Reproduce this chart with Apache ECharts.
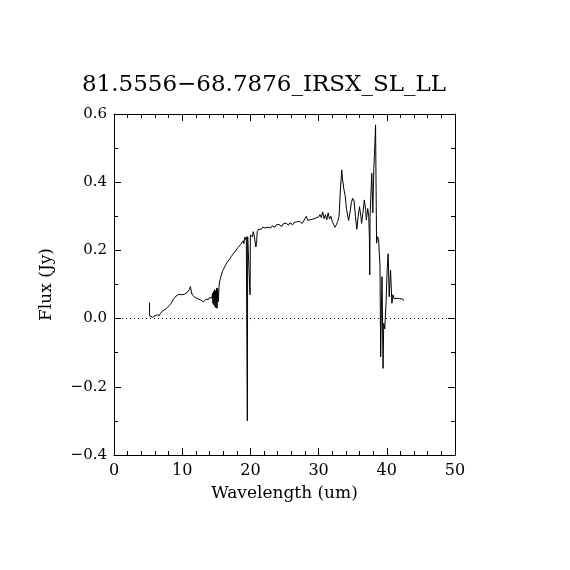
<!DOCTYPE html>
<html><head><meta charset="utf-8">
<script src="https://cdn.jsdelivr.net/npm/echarts@6/dist/echarts.min.js"></script>
<style>html,body{margin:0;padding:0;background:#fff}#c{width:570px;height:570px}</style>
</head><body><div id="c"></div>
<script>
var titleText = '81.5556\u221268.7876_IRSX_SL_LL';
var xName = 'Wavelength (um)';
var yName = 'Flux (Jy)';
var xTicks = [0, 10, 20, 30, 40, 50];
var yTicks = [-0.4, -0.2, 0.0, 0.2, 0.4, 0.6];
var wavelength = [
5.20,5.22,5.35,5.5,5.65,5.8,6.0,6.1,6.2,6.35,6.5,6.65,6.8,7.0,7.1,7.2,7.35,7.5,7.65,7.8,
8.0,8.1,8.25,8.4,8.55,8.7,8.8,8.95,9.1,9.3,9.5,9.7,9.9,10.1,10.3,10.5,10.7,10.9,11.05,11.2,
11.35,11.5,11.7,11.9,12.1,12.3,12.5,12.7,12.9,13.1,13.3,13.5,13.7,13.85,14.0,14.2,14.35,14.45,14.5,14.6,
14.65,14.75,14.8,14.9,14.95,15.05,15.1,15.2,15.3,15.4,15.5,15.6,15.75,15.9,16.05,16.2,16.4,16.6,16.8,17.0,
17.2,17.4,17.6,17.8,18.0,18.2,18.4,18.6,18.8,18.95,19.05,19.15,19.3,19.4,19.5,19.55,19.6,19.75,19.85,19.95,
20.0,20.15,20.3,20.4,20.55,20.7,20.8,20.9,21.0,21.2,21.4,21.6,21.8,22.0,22.2,22.4,22.6,22.8,23.0,23.2,
23.4,23.6,23.8,24.0,24.2,24.4,24.6,24.8,25.0,25.2,25.4,25.6,25.8,26.0,26.2,26.4,26.6,26.8,27.0,27.2,
27.4,27.6,27.8,28.0,28.2,28.4,28.6,28.8,29.0,29.2,29.4,29.6,29.8,30.0,30.2,30.4,30.6,30.8,31.0,31.2,
31.4,31.6,31.8,32.0,32.2,32.4,32.6,32.8,33.0,33.2,33.4,33.5,33.7,33.9,34.1,34.4,34.6,34.8,35.0,35.2,
35.4,35.6,35.8,36.0,36.2,36.3,36.5,36.7,36.9,37.0,37.2,37.35,37.45,37.5,37.55,37.7,37.8,37.95,38.1,38.2,
38.35,38.5,38.65,38.8,38.9,39.0,39.1,39.2,39.3,39.45,39.55,39.7,39.9,40.05,40.2,40.35,40.55,40.75,40.9,41.1,
41.3,41.5,41.7,41.9,42.1,42.3,42.5];
var flux = [
0.047,0.008,0.005,0.007,0.004,0.009,0.008,0.012,0.006,0.011,0.012,0.009,0.015,0.017,0.022,0.019,0.024,0.027,0.025,0.032,
0.033,0.038,0.036,0.045,0.050,0.057,0.053,0.062,0.066,0.068,0.071,0.072,0.070,0.073,0.071,0.073,0.076,0.079,0.085,0.094,
0.078,0.069,0.066,0.062,0.063,0.058,0.060,0.055,0.054,0.049,0.052,0.057,0.060,0.056,0.062,0.065,0.060,0.075,0.045,0.080,
0.040,0.085,0.035,0.082,0.032,0.090,0.030,0.088,0.050,0.095,0.110,0.118,0.128,0.138,0.145,0.150,0.158,0.165,0.170,0.176,
0.182,0.188,0.193,0.198,0.203,0.209,0.213,0.218,0.222,0.228,0.220,0.238,0.232,0.240,0.236,-0.300,0.240,0.245,0.238,0.070,
0.245,0.250,0.240,0.255,0.245,0.250,0.210,0.220,0.255,0.262,0.265,0.262,0.268,0.264,0.266,0.263,0.268,0.270,0.266,0.272,
0.270,0.268,0.275,0.271,0.276,0.273,0.270,0.278,0.274,0.280,0.277,0.274,0.281,0.279,0.275,0.282,0.278,0.284,0.280,0.285,
0.282,0.279,0.286,0.290,0.300,0.288,0.285,0.290,0.287,0.292,0.289,0.295,0.291,0.298,0.305,0.296,0.313,0.293,0.305,0.290,
0.310,0.292,0.300,0.285,0.280,0.268,0.275,0.285,0.300,0.380,0.436,0.410,0.380,0.360,0.320,0.288,0.310,0.340,0.353,0.345,
0.300,0.262,0.300,0.328,0.300,0.279,0.310,0.348,0.320,0.289,0.323,0.300,0.235,0.128,0.300,0.380,0.426,0.310,0.440,0.485,
0.568,0.221,0.240,0.232,0.190,0.157,-0.112,0.020,0.123,-0.146,-0.014,-0.030,0.050,0.142,0.190,0.064,0.142,0.045,0.070,0.058,
0.055,0.060,0.056,0.058,0.063,0.058,0.052];

var seriesData = wavelength.map(function (w, i) { return [w, flux[i]]; });
var FONT = 'DejaVu Serif';
function fmtY(v) { var s = Math.abs(v) < 1e-9 ? '0.0' : v.toFixed(1); return s.replace('-', '\u2212'); }

var axisCommon = {
  type: 'value',
  axisLine: { show: true, onZero: false, lineStyle: { color: '#000', width: 1 } },
  splitLine: { show: false },
  axisTick: { show: true, inside: true, length: 7, lineStyle: { color: '#000' } },
  minorTick: { show: true, length: 4, lineStyle: { color: '#000' } }
};

var chart = echarts.init(document.getElementById('c'), null, { renderer: 'canvas' });
chart.setOption({
  animation: false,
  backgroundColor: '#fff',
  title: {
    text: titleText, left: 259, top: 69, textAlign: 'center',
    textStyle: { fontFamily: FONT, fontWeight: 'normal', fontSize: 23, color: '#000' }
  },
  grid: { left: 114, right: 115, top: 114, bottom: 115 },
  xAxis: [
    Object.assign({}, axisCommon, {
      min: xTicks[0], max: xTicks[xTicks.length - 1], interval: 10, position: 'bottom',
      minorTick: { show: true, splitNumber: 5, length: 4, lineStyle: { color: '#000' } },
      axisLabel: { show: true, margin: 8, fontFamily: FONT, fontSize: 16, color: '#000' },
      name: xName, nameLocation: 'middle', nameGap: 30,
      nameTextStyle: { fontFamily: FONT, fontSize: 17, color: '#000' }
    }),
    Object.assign({}, axisCommon, {
      min: xTicks[0], max: xTicks[xTicks.length - 1], interval: 10, position: 'top',
      minorTick: { show: true, splitNumber: 5, length: 4, lineStyle: { color: '#000' } },
      axisLabel: { show: false }
    })
  ],
  yAxis: [
    Object.assign({}, axisCommon, {
      min: yTicks[0], max: yTicks[yTicks.length - 1], interval: 0.2, position: 'left',
      minorTick: { show: true, splitNumber: 2, length: 4, lineStyle: { color: '#000' } },
      axisLabel: { show: true, margin: 7, fontFamily: FONT, fontSize: 15, color: '#000', formatter: fmtY },
      name: yName, nameLocation: 'middle', nameGap: 59, nameRotate: 90,
      nameTextStyle: { fontFamily: FONT, fontSize: 17, color: '#000' }
    }),
    Object.assign({}, axisCommon, {
      min: yTicks[0], max: yTicks[yTicks.length - 1], interval: 0.2, position: 'right',
      minorTick: { show: true, splitNumber: 2, length: 4, lineStyle: { color: '#000' } },
      axisLabel: { show: false }
    })
  ],
  series: [{
    type: 'line', xAxisIndex: 0, yAxisIndex: 0, data: seriesData,
    showSymbol: false, symbol: 'none',
    lineStyle: { color: '#000', width: 1 },
    markLine: {
      silent: true, symbol: 'none', label: { show: false },
      lineStyle: { color: '#000', type: [1, 3], width: 1 },
      data: [{ yAxis: 0 }]
    }
  }]
});
</script>
</body></html>
